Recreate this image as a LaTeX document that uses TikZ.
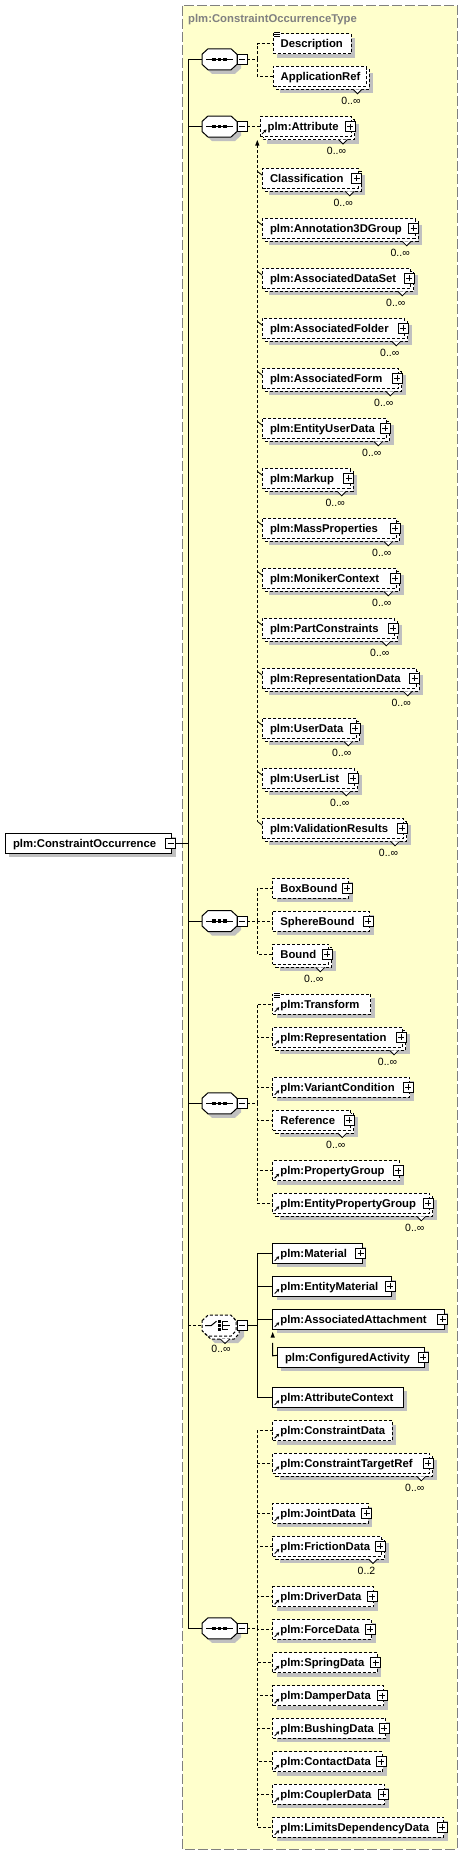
\documentclass[tikz,border=0pt]{standalone}
\usepackage{fontspec}
\setmainfont{Liberation Sans}
\usetikzlibrary{arrows.meta}
\definecolor{yel}{HTML}{FFFFCC}
\definecolor{shd}{HTML}{C0C0C0}
\definecolor{brd}{HTML}{808080}
\tikzset{
 dsh/.style={dash pattern=on 3pt off 2pt},
 sld/.style={},
 ebox/.style={draw=black, fill=white, line width=1pt, minimum height=20pt, inner sep=0pt, outer sep=0pt},
 etxt/.style={font=\bfseries\fontsize{11.3}{13}\selectfont, inner sep=0pt, anchor=base west},
 otxt/.style={font=\fontsize{10.5}{12}\selectfont, inner sep=0pt, anchor=base},
 conn/.style={draw=black, line width=1pt},
 pbox/.style={draw=black, fill=white, line width=1pt, minimum size=10pt, inner sep=0pt, outer sep=0pt},
}
% single element: name, left, cy, right, style, text
\newcommand\el[6]{%
 \fill[shd] (#2+4,#3-6) rectangle (#4+4,#3+14);
 \node[ebox,#5,minimum width={#4-#2},anchor=west] (#1) at (#2,#3) {};
 \node[etxt] at ([xshift=7.5pt,yshift=-4pt]#1.west) {#6};
}
% multiple element: name, left, cy, right, style, text, occurrence
\newcommand\elm[7]{%
 \fill[shd] (#2+7,#3-3) rectangle (#4+7,#3+17);
 \draw[black, fill=white, line width=1pt, #5] (#2+3,#3-7) rectangle (#4+3,#3+13);
 \node[ebox,#5,minimum width={#4-#2},anchor=west] (#1) at (#2,#3) {};
 \node[etxt] at ([xshift=7.5pt,yshift=-4pt]#1.west) {#6};
 \path[fill=white,draw=black,line width=0.8pt] (#4-13,#3+13) -- (#4-8.5,#3+17.5) -- (#4-4,#3+13);
 \node[otxt] at ([xshift=-15pt,yshift=-28pt]#1.east) {#7};
}
\newcommand\pl[1]{%
 \node[pbox] (#1p) at ([xshift=-1.5pt]#1.east) {};
 \draw[line width=0.8pt] ([xshift=2pt]#1p.west) -- ([xshift=-2pt]#1p.east);
 \draw[line width=0.8pt] ([yshift=-2pt]#1p.north) -- ([yshift=2pt]#1p.south);
}
\newcommand\mn[2]{%
 \node[pbox] (#1) at (#2) {};
 \draw[line width=0.8pt] ([xshift=2pt]#1.west) -- ([xshift=-2pt]#1.east);
}
\newcommand\rf[1]{%
 \draw[line width=1pt,-{Stealth[length=3pt,width=3.5pt]}] ([xshift=2pt,yshift=2.5pt]#1.south west) -- ++(4.5,-4.5);
}
\newcommand\ti[1]{%
 \fill[white] ([xshift=0.5pt,yshift=2pt]#1.north west) rectangle ++(7,6);
 \foreach \k in {0,2,4} \draw[line width=0.7pt] ([xshift=1pt,yshift={(1-\k)*1pt}]#1.north west) -- ++(6,0);
}
\newcommand\sq[2]{%
 \fill[shd] (206,#2-1) -- (212,#2-6.5) -- (235,#2-6.5) -- (241,#2-1) -- (241,#2+9) -- (235,#2+14.5) -- (212,#2+14.5) -- (206,#2+9) -- cycle;
 \filldraw[fill=white,draw=black,line width=1pt] (202,#2-5) -- (208,#2-10.5) -- (231,#2-10.5) -- (237,#2-5) -- (237,#2+5) -- (231,#2+10.5) -- (208,#2+10.5) -- (202,#2+5) -- cycle;
 \draw[line width=1pt] (206,#2) -- (233,#2);
 \foreach \d in {214,219.5,225} \fill (\d-1.6,#2-1.6) rectangle (\d+1.6,#2+1.6);
 \coordinate (#1) at (202,#2);
 \mn{#1m}{242,#2}
}
\newcommand\tick[1]{\draw[line width=0.8pt] ([xshift=-5pt,yshift=7pt]#1.west) -- ([yshift=3pt]#1.west);}
\begin{document}
\begin{tikzpicture}[x=1pt,y=-1pt]
\useasboundingbox (0,0) rectangle (463,1855);
\fill[white] (0,0) rectangle (463,1855);
\filldraw[fill=yel, draw=brd, line width=1pt, dash pattern=on 10pt off 3pt] (182.5,5.5) rectangle (457,1849);
\node[font=\bfseries\fontsize{11.3}{13}\selectfont, text=brd, anchor=base west, inner sep=0pt] (title) at (188,23) {plm:ConstraintOccurrenceType};
\coordinate (mx) at (188,0);
\coordinate (jx) at (257.3,0);

% root
\el{root}{5.3}{843}{171.7}{sld}{plm:ConstraintOccurrence}
\mn{rootm}{170.7,843}

% sequence symbols
\sq{s1}{59.3}
\sq{s2}{126.5}
\sq{s3}{921}
\sq{s4}{1103.3}
\sq{s5}{1628.3}

% choice symbol
\fill[shd] (209,1326.7) -- (215,1321.2) -- (238,1321.2) -- (244,1326.7) -- (244,1336.7) -- (238,1343.2) -- (215,1343.2) -- (209,1336.7) -- cycle;
\filldraw[fill=white,draw=black,line width=1pt,dsh] (205,1323.7) -- (211,1318.2) -- (234,1318.2) -- (239,1323.7) -- (239,1333.7) -- (234,1339.2) -- (211,1339.2) -- (205,1333.7) -- cycle;
\filldraw[fill=white,draw=black,line width=1pt,dsh] (202,1320.7) -- (208,1315.2) -- (231,1315.2) -- (236,1320.7) -- (236,1330.7) -- (231,1336.2) -- (208,1336.2) -- (202,1330.7) -- cycle;
\path[fill=white,draw=black,line width=0.8pt] (220.5,1339.2) -- (225,1343.5) -- (229.5,1339.2);
\draw[line width=1pt] (205,1325.7) -- (211,1325.7) -- (216.5,1321.2);
\draw[line width=1pt] (222.5,1321.2) -- (222.5,1330.2);
\draw[line width=0.8pt] (222.5,1321.7) -- (228,1321.7) (222.5,1325.7) -- (230,1325.7) (222.5,1329.7) -- (228,1329.7);
\foreach \d in {1321.7,1325.7,1329.7} \fill (218.4,\d-1.3) rectangle (220.9,\d+1.3);
\coordinate (ch) at (202,1325.7);
\mn{chm}{242,1325.7}
\node[otxt] (chocc) at (221,1352) {0..∞};

% sequence 1
\el{desc}{273}{43.5}{351}{dsh}{Description}
\ti{desc}
\elm{appref}{273}{76.3}{366}{dsh}{ApplicationRef}{0..∞}

% sequence 2 (substitution group)
\elm{attr}{260}{126.5}{351.5}{dsh}{plm:Attribute}{0..∞}\pl{attr}\rf{attr}
\elm{cls}{262.3}{178.3}{358.2}{dsh}{Classification}{0..∞}\pl{cls}
\elm{a3d}{262.3}{228.3}{415.2}{dsh}{plm:Annotation3DGroup}{0..∞}\pl{a3d}
\elm{ads}{262.3}{278.3}{410.8}{dsh}{plm:AssociatedDataSet}{0..∞}\pl{ads}
\elm{afo}{262.3}{328.3}{404.8}{dsh}{plm:AssociatedFolder}{0..∞}\pl{afo}
\elm{afm}{262.3}{378.3}{398.8}{dsh}{plm:AssociatedForm}{0..∞}\pl{afm}
\elm{eud}{262.3}{428.3}{386.8}{dsh}{plm:EntityUserData}{0..∞}\pl{eud}
\elm{mku}{262.3}{478.3}{350.2}{dsh}{plm:Markup}{0..∞}\pl{mku}
\elm{mpr}{262.3}{528.3}{396.8}{dsh}{plm:MassProperties}{0..∞}\pl{mpr}
\elm{mkc}{262.3}{578.3}{396.8}{dsh}{plm:MonikerContext}{0..∞}\pl{mkc}
\elm{pcs}{262.3}{628.3}{394.8}{dsh}{plm:PartConstraints}{0..∞}\pl{pcs}
\elm{rpd}{262.3}{678.3}{416.2}{dsh}{plm:RepresentationData}{0..∞}\pl{rpd}
\elm{usd}{262.3}{728.3}{356.8}{dsh}{plm:UserData}{0..∞}\pl{usd}
\elm{usl}{262.3}{778.3}{354.8}{dsh}{plm:UserList}{0..∞}\pl{usl}
\elm{vr}{262.3}{828.3}{403.5}{dsh}{plm:ValidationResults}{0..∞}\pl{vr}

% sequence 3
\el{bb}{272.7}{888.3}{348.8}{dsh}{BoxBound}\pl{bb}
\el{sb}{272.7}{921}{369.5}{dsh}{SphereBound}\pl{sb}
\elm{bd}{272.7}{954.3}{328.8}{dsh}{Bound}{0..∞}\pl{bd}

% sequence 4
\el{tr}{272.7}{1004.3}{370.7}{dsh}{plm:Transform}\ti{tr}\rf{tr}
\elm{rep}{272.7}{1037.3}{402.5}{dsh}{plm:Representation}{0..∞}\pl{rep}\rf{rep}
\el{vc}{272.7}{1087.3}{409.8}{dsh}{plm:VariantCondition}\pl{vc}\rf{vc}
\elm{rfc}{272.7}{1120}{350.8}{dsh}{Reference}{0..∞}\pl{rfc}
\el{pg}{272.7}{1170.7}{399.8}{dsh}{plm:PropertyGroup}\pl{pg}\rf{pg}
\elm{epg}{272.7}{1203.3}{429.8}{dsh}{plm:EntityPropertyGroup}{0..∞}\pl{epg}\rf{epg}

% choice members
\el{mat}{272.7}{1253.3}{362.2}{sld}{plm:Material}\pl{mat}\rf{mat}
\el{emat}{272.7}{1286}{391.5}{sld}{plm:EntityMaterial}\pl{emat}\rf{emat}
\el{aatt}{272.7}{1319.3}{444.2}{sld}{plm:AssociatedAttachment}\pl{aatt}\rf{aatt}
\el{cact}{277.3}{1357.3}{424.8}{sld}{plm:ConfiguredActivity}\pl{cact}
\el{actx}{272.7}{1397.3}{403.3}{sld}{plm:AttributeContext}\rf{actx}

% sequence 5
\el{cd}{272.7}{1430.7}{392.3}{dsh}{plm:ConstraintData}\rf{cd}
\elm{ctr}{272.7}{1463.3}{429.8}{dsh}{plm:ConstraintTargetRef}{0..∞}\pl{ctr}\rf{ctr}
\el{jd}{272.7}{1513.3}{368.2}{dsh}{plm:JointData}\pl{jd}\rf{jd}
\elm{fd}{272.7}{1546}{381.5}{dsh}{plm:FrictionData}{0..2}\pl{fd}\rf{fd}
\el{dd}{272.7}{1596.7}{373.8}{dsh}{plm:DriverData}\pl{dd}\rf{dd}
\el{frc}{272.7}{1629.3}{371.5}{dsh}{plm:ForceData}\pl{frc}\rf{frc}
\el{spd}{272.7}{1662.7}{377.2}{dsh}{plm:SpringData}\pl{spd}\rf{spd}
\el{dmd}{272.7}{1695.7}{383.8}{dsh}{plm:DamperData}\pl{dmd}\rf{dmd}
\el{bsd}{272.7}{1728.3}{385.8}{dsh}{plm:BushingData}\pl{bsd}\rf{bsd}
\el{ctd}{272.7}{1761.7}{382.5}{dsh}{plm:ContactData}\pl{ctd}\rf{ctd}
\el{cpd}{272.7}{1794.3}{384.8}{dsh}{plm:CouplerData}\pl{cpd}\rf{cpd}
\el{ldd}{272.7}{1827.3}{443.8}{dsh}{plm:LimitsDependencyData}\pl{ldd}\rf{ldd}

% ---- connectors ----
\draw[conn] (s1 -| mx) -- (s5 -| mx);
\draw[conn] (rootm.east) -- (rootm -| mx);
\foreach \s in {s1,s2,s3,s4,s5} \draw[conn] (\s -| mx) -- (\s);
\draw[conn,dsh] (ch -| mx) -- (ch);

% seq1
\coordinate (j1) at (s1 -| jx);
\draw[conn,dsh] (s1m.east) -- (j1);
\foreach \n in {desc,appref} \draw[conn,dsh] (j1) |- (\n.west);
% seq2
\draw[conn,dsh] (s2m.east) -- (attr.west);
\coordinate (sgt) at (257.3,145);
\coordinate (sgb) at ([xshift=-5pt,yshift=7pt]vr.west);
\fill (255.2,145.5) -- (257.3,140) -- (259.4,145.5) -- cycle;
\draw[conn,dsh] (sgt) -- (sgb);
\foreach \n in {cls,a3d,ads,afo,afm,eud,mku,mpr,mkc,pcs,rpd,usd,usl,vr} \tick{\n}
% seq3
\coordinate (j3) at (s3 -| jx);
\draw[conn,dsh] (s3m.east) -- (j3);
\foreach \n in {bb,sb,bd} \draw[conn,dsh] (j3) |- (\n.west);
% seq4
\coordinate (j4) at (s4 -| jx);
\draw[conn,dsh] (s4m.east) -- (j4);
\foreach \n in {tr,rep,vc,rfc,pg,epg} \draw[conn,dsh] (j4) |- (\n.west);
% choice
\coordinate (jc) at (ch -| jx);
\draw[conn] (chm.east) -- (jc);
\foreach \n in {mat,emat,aatt,actx} \draw[conn] (jc) |- (\n.west);
\coordinate (cat) at ([yshift=-13.5pt]aatt.south west);
\fill (270.6,1337.5) -- (272.7,1332) -- (274.8,1337.5) -- cycle;
\draw[line width=1pt] (cat) -- ++(0,13) -- ([yshift=2pt]cact.west);
% seq5
\coordinate (j5) at (s5 -| jx);
\draw[conn,dsh] (s5m.east) -- (j5);
\foreach \n in {cd,ctr,jd,fd,dd,frc,spd,dmd,bsd,ctd,cpd,ldd} \draw[conn,dsh] (j5) |- (\n.west);
\end{tikzpicture}
\end{document}
